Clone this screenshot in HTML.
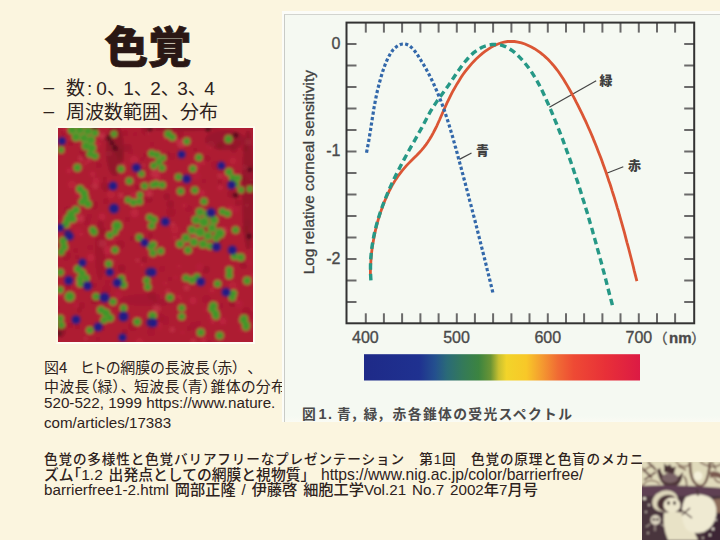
<!DOCTYPE html>
<html lang="ja">
<head>
<meta charset="utf-8">
<style>
html,body{margin:0;padding:0;}
body{width:720px;height:540px;position:relative;overflow:hidden;background:#fbf5df;
 font-family:"Liberation Sans","Noto Sans CJK JP",sans-serif;color:#2e221c;}
.abs{position:absolute;white-space:nowrap;}
#title{left:104.5px;top:14.5px;font-family:"Noto Sans CJK JP",sans-serif;font-weight:900;font-size:43.5px;line-height:60px;color:#2a1714;letter-spacing:0px;-webkit-text-stroke:0.7px #2a1714;}
.bul{left:42px;font-family:"Noto Sans CJK JP",sans-serif;font-size:19px;line-height:22px;color:#2e221c;}
.bul .d{display:inline-block;width:22.5px;padding-left:1.5px;position:relative;top:-1.7px;font-family:"Liberation Sans",sans-serif;}
.bul .c{font-family:"Liberation Sans",sans-serif;margin:0 4px 0 2px;}
.bul .n{font-family:"Liberation Sans",sans-serif;}
.bul .t{letter-spacing:-2.6px;}
#mosaic{position:absolute;left:56px;top:126px;width:195px;height:214px;border:2px solid #fffcf4;border-left-color:#fcf8e6;border-top-color:#fdf9ea;}
#mosaic svg{display:block;}
.cap{font-family:"Liberation Sans","Noto Sans CJK JP",sans-serif;font-size:14.5px;line-height:19px;color:#2e221c;font-weight:500;}
.j{font-family:"Noto Sans CJK JP",sans-serif;font-feature-settings:"palt";text-spacing-trim:space-all;font-size:15px;font-weight:400;}
#panel{position:absolute;left:282px;top:11px;width:438px;height:411px;background:#fbfcf8;}
#panel .in{position:absolute;left:2px;top:3px;right:0;bottom:0.5px;background:linear-gradient(to bottom,#f5f9f2 0,#f5f9f2 calc(100% - 6px),#fafbf4 100%);border-left:1px solid #c9cbc6;border-top:1px solid #d2d4cf;}
#chart{position:absolute;left:0;top:0;}
.foot{left:44px;font-family:"Liberation Sans","Noto Sans CJK JP",sans-serif;font-size:14.45px;line-height:15.5px;color:#2e221c;text-spacing-trim:space-all;font-weight:500;}
#illu{position:absolute;left:642px;top:462px;width:78px;height:78px;overflow:hidden;}
</style>
</head>
<body>
<div id="title" class="abs">色覚</div>
<div class="abs bul" style="top:76px"><span class="d">–</span>数<span class="c">:</span><span class="n">0</span><span class="t">、</span><span class="n">1</span><span class="t">、</span><span class="n">2</span><span class="t">、</span><span class="n">3</span><span class="t">、</span><span class="n">4</span></div>
<div class="abs bul" style="top:100px"><span class="d">–</span>周波数範囲、分布</div>

<div id="mosaic"><svg width="195" height="214" viewBox="0 0 195 214">
<defs><filter id="mb" x="-5%" y="-5%" width="110%" height="110%"><feGaussianBlur stdDeviation="1.5"/></filter><clipPath id="mc"><rect width="195" height="214"/></clipPath></defs>
<rect width="195" height="214" fill="#ae1a33"/>
<g clip-path="url(#mc)"><g filter="url(#mb)">
<rect x="-5" y="-5" width="205" height="224" fill="#ae1a33"/>
<circle cx="62.1" cy="30.2" r="3.5" fill="#9c152d" opacity="0.6"/>
<circle cx="162.1" cy="17.7" r="3.2" fill="#941329" opacity="0.6"/>
<circle cx="40.2" cy="15.9" r="2.8" fill="#c0263d" opacity="0.6"/>
<circle cx="15.2" cy="90.4" r="4.0" fill="#9c152d" opacity="0.6"/>
<circle cx="187.4" cy="135.7" r="3.2" fill="#9c152d" opacity="0.6"/>
<circle cx="113.0" cy="84.3" r="4.4" fill="#9c152d" opacity="0.6"/>
<circle cx="108.9" cy="26.3" r="2.8" fill="#941329" opacity="0.6"/>
<circle cx="20.7" cy="64.9" r="3.9" fill="#c0263d" opacity="0.6"/>
<circle cx="17.7" cy="122.7" r="2.1" fill="#9c152d" opacity="0.6"/>
<circle cx="107.1" cy="10.8" r="1.7" fill="#c0263d" opacity="0.6"/>
<circle cx="96.8" cy="114.0" r="3.8" fill="#b8213a" opacity="0.6"/>
<circle cx="114.7" cy="96.7" r="2.4" fill="#c83a4c" opacity="0.6"/>
<circle cx="33.1" cy="168.6" r="1.7" fill="#a4182f" opacity="0.6"/>
<circle cx="102.6" cy="189.5" r="3.7" fill="#a4182f" opacity="0.6"/>
<circle cx="119.4" cy="13.1" r="3.0" fill="#c0263d" opacity="0.6"/>
<circle cx="149.2" cy="30.4" r="3.0" fill="#9c152d" opacity="0.6"/>
<circle cx="190.4" cy="14.1" r="3.2" fill="#c83a4c" opacity="0.6"/>
<circle cx="173.0" cy="66.0" r="3.6" fill="#941329" opacity="0.6"/>
<circle cx="96.8" cy="172.3" r="1.7" fill="#9c152d" opacity="0.6"/>
<circle cx="186.9" cy="101.3" r="3.5" fill="#9c152d" opacity="0.6"/>
<circle cx="144.0" cy="65.1" r="3.2" fill="#c42c42" opacity="0.6"/>
<circle cx="162.2" cy="59.6" r="2.7" fill="#c42c42" opacity="0.6"/>
<circle cx="66.7" cy="203.9" r="2.6" fill="#941329" opacity="0.6"/>
<circle cx="20.5" cy="10.0" r="3.8" fill="#c0263d" opacity="0.6"/>
<circle cx="145.4" cy="84.5" r="4.3" fill="#b8213a" opacity="0.6"/>
<circle cx="13.2" cy="95.8" r="3.1" fill="#c0263d" opacity="0.6"/>
<circle cx="161.7" cy="187.1" r="2.3" fill="#b8213a" opacity="0.6"/>
<circle cx="195.3" cy="147.2" r="2.6" fill="#c0263d" opacity="0.6"/>
<circle cx="27.3" cy="35.8" r="2.2" fill="#c0263d" opacity="0.6"/>
<circle cx="-0.6" cy="179.8" r="2.0" fill="#a4182f" opacity="0.6"/>
<circle cx="-2.2" cy="89.2" r="2.6" fill="#941329" opacity="0.6"/>
<circle cx="61.0" cy="24.6" r="4.1" fill="#941329" opacity="0.6"/>
<circle cx="128.6" cy="159.8" r="2.9" fill="#c83a4c" opacity="0.6"/>
<circle cx="153.8" cy="189.4" r="3.9" fill="#b8213a" opacity="0.6"/>
<circle cx="77.0" cy="83.7" r="2.9" fill="#b8213a" opacity="0.6"/>
<circle cx="9.5" cy="11.8" r="2.1" fill="#c0263d" opacity="0.6"/>
<circle cx="19.1" cy="129.2" r="1.8" fill="#941329" opacity="0.6"/>
<circle cx="27.4" cy="19.3" r="2.6" fill="#9c152d" opacity="0.6"/>
<circle cx="11.1" cy="42.7" r="2.6" fill="#c42c42" opacity="0.6"/>
<circle cx="47.7" cy="73.4" r="2.6" fill="#9c152d" opacity="0.6"/>
<circle cx="20.2" cy="104.4" r="4.4" fill="#b8213a" opacity="0.6"/>
<circle cx="94.3" cy="15.9" r="1.8" fill="#a4182f" opacity="0.6"/>
<circle cx="145.8" cy="102.3" r="3.6" fill="#941329" opacity="0.6"/>
<circle cx="1.6" cy="206.2" r="3.1" fill="#c0263d" opacity="0.6"/>
<circle cx="135.7" cy="198.1" r="3.8" fill="#a4182f" opacity="0.6"/>
<circle cx="193.7" cy="186.9" r="3.6" fill="#a4182f" opacity="0.6"/>
<circle cx="101.2" cy="196.8" r="2.6" fill="#c0263d" opacity="0.6"/>
<circle cx="104.1" cy="168.4" r="2.5" fill="#c0263d" opacity="0.6"/>
<circle cx="120.3" cy="170.4" r="3.8" fill="#c0263d" opacity="0.6"/>
<circle cx="159.0" cy="177.0" r="3.7" fill="#c0263d" opacity="0.6"/>
<circle cx="37.2" cy="105.4" r="3.7" fill="#9c152d" opacity="0.6"/>
<circle cx="155.8" cy="100.9" r="2.1" fill="#941329" opacity="0.6"/>
<circle cx="189.3" cy="95.4" r="4.3" fill="#a4182f" opacity="0.6"/>
<circle cx="189.0" cy="77.2" r="2.2" fill="#c0263d" opacity="0.6"/>
<circle cx="91.5" cy="71.3" r="2.9" fill="#941329" opacity="0.6"/>
<circle cx="165.9" cy="102.5" r="3.5" fill="#c83a4c" opacity="0.6"/>
<circle cx="126.3" cy="180.6" r="1.9" fill="#b8213a" opacity="0.6"/>
<circle cx="154.2" cy="162.0" r="2.9" fill="#c0263d" opacity="0.6"/>
<circle cx="84.2" cy="136.9" r="1.8" fill="#c42c42" opacity="0.6"/>
<circle cx="76.6" cy="85.3" r="4.3" fill="#c42c42" opacity="0.6"/>
<circle cx="28.9" cy="215.5" r="1.6" fill="#941329" opacity="0.6"/>
<circle cx="178.9" cy="174.4" r="1.9" fill="#c83a4c" opacity="0.6"/>
<circle cx="116.8" cy="101.4" r="4.3" fill="#c0263d" opacity="0.6"/>
<circle cx="107.3" cy="25.8" r="1.5" fill="#c42c42" opacity="0.6"/>
<circle cx="127.6" cy="112.8" r="4.3" fill="#b8213a" opacity="0.6"/>
<circle cx="195.3" cy="39.9" r="4.1" fill="#9c152d" opacity="0.6"/>
<circle cx="47.6" cy="61.5" r="2.2" fill="#941329" opacity="0.6"/>
<circle cx="62.5" cy="116.8" r="4.0" fill="#9c152d" opacity="0.6"/>
<circle cx="179.9" cy="74.8" r="2.9" fill="#941329" opacity="0.6"/>
<circle cx="160.8" cy="110.7" r="4.0" fill="#941329" opacity="0.6"/>
<circle cx="23.3" cy="30.4" r="3.0" fill="#c83a4c" opacity="0.6"/>
<circle cx="85.5" cy="37.3" r="1.5" fill="#c83a4c" opacity="0.6"/>
<circle cx="27.1" cy="28.1" r="3.4" fill="#9c152d" opacity="0.6"/>
<circle cx="108.9" cy="68.7" r="3.1" fill="#941329" opacity="0.6"/>
<circle cx="94.0" cy="167.8" r="4.1" fill="#9c152d" opacity="0.6"/>
<circle cx="46.9" cy="57.9" r="3.8" fill="#941329" opacity="0.6"/>
<circle cx="87.9" cy="3.1" r="4.2" fill="#9c152d" opacity="0.6"/>
<circle cx="86.1" cy="131.8" r="3.0" fill="#941329" opacity="0.6"/>
<circle cx="37.1" cy="58.0" r="3.0" fill="#c83a4c" opacity="0.6"/>
<circle cx="93.1" cy="204.1" r="3.6" fill="#a4182f" opacity="0.6"/>
<circle cx="182.5" cy="193.4" r="2.1" fill="#b8213a" opacity="0.6"/>
<circle cx="24.6" cy="23.8" r="2.8" fill="#9c152d" opacity="0.6"/>
<circle cx="131.9" cy="91.2" r="2.1" fill="#a4182f" opacity="0.6"/>
<circle cx="154.6" cy="194.3" r="2.0" fill="#c42c42" opacity="0.6"/>
<circle cx="126.3" cy="77.6" r="2.3" fill="#c0263d" opacity="0.6"/>
<circle cx="191.5" cy="45.3" r="4.4" fill="#b8213a" opacity="0.6"/>
<circle cx="174.9" cy="32.8" r="3.5" fill="#c0263d" opacity="0.6"/>
<circle cx="29.5" cy="91.9" r="3.0" fill="#a4182f" opacity="0.6"/>
<circle cx="81.7" cy="75.5" r="1.8" fill="#a4182f" opacity="0.6"/>
<circle cx="0.9" cy="118.9" r="2.8" fill="#9c152d" opacity="0.6"/>
<circle cx="74.3" cy="110.8" r="2.4" fill="#9c152d" opacity="0.6"/>
<circle cx="19.7" cy="199.1" r="2.2" fill="#9c152d" opacity="0.6"/>
<circle cx="13.9" cy="56.8" r="4.2" fill="#c0263d" opacity="0.6"/>
<circle cx="51.4" cy="25.5" r="2.8" fill="#c42c42" opacity="0.6"/>
<circle cx="161.6" cy="53.9" r="1.9" fill="#941329" opacity="0.6"/>
<circle cx="111.7" cy="151.1" r="1.8" fill="#9c152d" opacity="0.6"/>
<circle cx="157.7" cy="37.3" r="4.2" fill="#a4182f" opacity="0.6"/>
<circle cx="185.6" cy="136.6" r="3.9" fill="#9c152d" opacity="0.6"/>
<circle cx="119.2" cy="45.9" r="2.3" fill="#9c152d" opacity="0.6"/>
<circle cx="88.2" cy="71.6" r="3.2" fill="#a4182f" opacity="0.6"/>
<circle cx="122.0" cy="6.5" r="3.6" fill="#9c152d" opacity="0.6"/>
<circle cx="191.8" cy="54.6" r="2.0" fill="#a4182f" opacity="0.6"/>
<circle cx="123.4" cy="113.8" r="2.1" fill="#b8213a" opacity="0.6"/>
<circle cx="97.5" cy="36.1" r="2.5" fill="#9c152d" opacity="0.6"/>
<circle cx="196.9" cy="5.1" r="1.6" fill="#941329" opacity="0.6"/>
<circle cx="107.8" cy="38.7" r="2.9" fill="#b8213a" opacity="0.6"/>
<circle cx="18.4" cy="177.2" r="2.8" fill="#b8213a" opacity="0.6"/>
<circle cx="106.7" cy="192.5" r="4.4" fill="#a4182f" opacity="0.6"/>
<circle cx="135.2" cy="213.1" r="2.5" fill="#c83a4c" opacity="0.6"/>
<circle cx="174.3" cy="157.3" r="1.9" fill="#a4182f" opacity="0.6"/>
<circle cx="194.4" cy="181.1" r="1.5" fill="#c42c42" opacity="0.6"/>
<circle cx="145.9" cy="53.2" r="2.0" fill="#9c152d" opacity="0.6"/>
<circle cx="130.7" cy="80.8" r="3.0" fill="#a4182f" opacity="0.6"/>
<circle cx="117.4" cy="149.4" r="1.6" fill="#c0263d" opacity="0.6"/>
<circle cx="28.7" cy="95.1" r="2.3" fill="#a4182f" opacity="0.6"/>
<circle cx="192.5" cy="117.4" r="2.2" fill="#a4182f" opacity="0.6"/>
<circle cx="40.8" cy="37.3" r="2.5" fill="#9c152d" opacity="0.6"/>
<circle cx="92.4" cy="107.6" r="2.1" fill="#941329" opacity="0.6"/>
<circle cx="153.0" cy="17.0" r="4.0" fill="#c0263d" opacity="0.6"/>
<circle cx="77.3" cy="6.2" r="1.6" fill="#a4182f" opacity="0.6"/>
<circle cx="123.6" cy="15.6" r="4.4" fill="#c83a4c" opacity="0.6"/>
<circle cx="147.9" cy="141.7" r="3.6" fill="#941329" opacity="0.6"/>
<circle cx="75.3" cy="68.7" r="4.5" fill="#c0263d" opacity="0.6"/>
<circle cx="54.1" cy="133.1" r="1.9" fill="#c83a4c" opacity="0.6"/>
<circle cx="164.9" cy="193.2" r="3.4" fill="#c42c42" opacity="0.6"/>
<circle cx="137.9" cy="108.2" r="4.2" fill="#c83a4c" opacity="0.6"/>
<circle cx="98.4" cy="180.7" r="3.9" fill="#c83a4c" opacity="0.6"/>
<circle cx="135.0" cy="172.6" r="3.6" fill="#c42c42" opacity="0.6"/>
<circle cx="126.2" cy="15.7" r="1.6" fill="#c42c42" opacity="0.6"/>
<circle cx="69.5" cy="20.1" r="4.0" fill="#941329" opacity="0.6"/>
<circle cx="7.2" cy="1.1" r="3.1" fill="#c0263d" opacity="0.6"/>
<circle cx="95.3" cy="-2.3" r="3.9" fill="#c42c42" opacity="0.6"/>
<circle cx="184.4" cy="194.5" r="1.8" fill="#941329" opacity="0.6"/>
<circle cx="10.3" cy="159.1" r="2.3" fill="#9c152d" opacity="0.6"/>
<circle cx="167.1" cy="48.7" r="3.8" fill="#c0263d" opacity="0.6"/>
<circle cx="145.7" cy="211.7" r="3.0" fill="#b8213a" opacity="0.6"/>
<circle cx="12.4" cy="197.3" r="2.4" fill="#9c152d" opacity="0.6"/>
<circle cx="121.0" cy="138.4" r="1.7" fill="#c0263d" opacity="0.6"/>
<circle cx="63.7" cy="140.3" r="3.6" fill="#941329" opacity="0.6"/>
<circle cx="111.1" cy="-0.3" r="1.7" fill="#a4182f" opacity="0.6"/>
<circle cx="192.5" cy="18.9" r="2.2" fill="#b8213a" opacity="0.6"/>
<circle cx="55.5" cy="110.6" r="2.9" fill="#b8213a" opacity="0.6"/>
<circle cx="151.2" cy="215.5" r="3.1" fill="#a4182f" opacity="0.6"/>
<circle cx="193.6" cy="203.0" r="1.6" fill="#b8213a" opacity="0.6"/>
<circle cx="12.4" cy="108.5" r="4.5" fill="#a4182f" opacity="0.6"/>
<circle cx="74.8" cy="198.6" r="4.3" fill="#9c152d" opacity="0.6"/>
<circle cx="113.9" cy="28.2" r="3.1" fill="#a4182f" opacity="0.6"/>
<circle cx="23.7" cy="177.4" r="3.0" fill="#9c152d" opacity="0.6"/>
<circle cx="138.4" cy="47.9" r="4.2" fill="#b8213a" opacity="0.6"/>
<circle cx="76.2" cy="32.0" r="4.3" fill="#c42c42" opacity="0.6"/>
<circle cx="87.6" cy="63.4" r="1.9" fill="#a4182f" opacity="0.6"/>
<circle cx="72.6" cy="23.6" r="2.5" fill="#a4182f" opacity="0.6"/>
<circle cx="147.9" cy="181.6" r="1.9" fill="#c0263d" opacity="0.6"/>
<circle cx="140.3" cy="195.3" r="2.4" fill="#a4182f" opacity="0.6"/>
<circle cx="10.1" cy="82.8" r="4.1" fill="#9c152d" opacity="0.6"/>
<circle cx="69.5" cy="91.2" r="2.3" fill="#9c152d" opacity="0.6"/>
<circle cx="53.4" cy="8.4" r="3.5" fill="#c42c42" opacity="0.6"/>
<circle cx="185.1" cy="51.9" r="2.3" fill="#941329" opacity="0.6"/>
<circle cx="60.4" cy="167.1" r="3.9" fill="#b8213a" opacity="0.6"/>
<circle cx="174.7" cy="175.6" r="3.4" fill="#941329" opacity="0.6"/>
<circle cx="107.4" cy="155.3" r="1.6" fill="#c42c42" opacity="0.6"/>
<circle cx="79.6" cy="132.3" r="1.9" fill="#c83a4c" opacity="0.6"/>
<circle cx="54.5" cy="7.8" r="4.3" fill="#c0263d" opacity="0.6"/>
<circle cx="31.3" cy="88.3" r="2.3" fill="#a4182f" opacity="0.6"/>
<circle cx="145.5" cy="211.8" r="2.3" fill="#c42c42" opacity="0.6"/>
<circle cx="45.0" cy="103.3" r="3.5" fill="#9c152d" opacity="0.6"/>
<circle cx="30.6" cy="32.6" r="2.1" fill="#c83a4c" opacity="0.6"/>
<circle cx="96.9" cy="45.4" r="4.2" fill="#c83a4c" opacity="0.6"/>
<circle cx="87.4" cy="27.7" r="2.1" fill="#9c152d" opacity="0.6"/>
<circle cx="32.1" cy="119.3" r="2.5" fill="#a4182f" opacity="0.6"/>
<circle cx="48.9" cy="122.3" r="4.2" fill="#c42c42" opacity="0.6"/>
<circle cx="172.0" cy="81.2" r="3.7" fill="#c0263d" opacity="0.6"/>
<circle cx="72.8" cy="71.4" r="1.7" fill="#a4182f" opacity="0.6"/>
<circle cx="112.4" cy="76.2" r="3.6" fill="#941329" opacity="0.6"/>
<circle cx="123.6" cy="186.8" r="2.1" fill="#a4182f" opacity="0.6"/>
<circle cx="177.3" cy="81.6" r="3.4" fill="#b8213a" opacity="0.6"/>
<circle cx="188.7" cy="183.7" r="4.1" fill="#9c152d" opacity="0.6"/>
<circle cx="22.6" cy="90.5" r="3.8" fill="#c83a4c" opacity="0.6"/>
<circle cx="92.1" cy="126.2" r="1.5" fill="#b8213a" opacity="0.6"/>
<circle cx="184.0" cy="201.2" r="3.1" fill="#b8213a" opacity="0.6"/>
<circle cx="192.4" cy="51.7" r="1.8" fill="#c0263d" opacity="0.6"/>
<circle cx="27.6" cy="210.8" r="1.8" fill="#c83a4c" opacity="0.6"/>
<circle cx="142.1" cy="139.4" r="3.8" fill="#b8213a" opacity="0.6"/>
<circle cx="14.1" cy="167.9" r="1.5" fill="#c0263d" opacity="0.6"/>
<circle cx="43.7" cy="199.4" r="3.4" fill="#a4182f" opacity="0.6"/>
<circle cx="190.4" cy="134.8" r="3.1" fill="#b8213a" opacity="0.6"/>
<circle cx="137.4" cy="21.7" r="1.7" fill="#941329" opacity="0.6"/>
<circle cx="186.7" cy="39.2" r="2.3" fill="#c83a4c" opacity="0.6"/>
<circle cx="117.8" cy="-0.7" r="2.4" fill="#b8213a" opacity="0.6"/>
<circle cx="53.0" cy="66.6" r="4.0" fill="#c0263d" opacity="0.6"/>
<circle cx="92.5" cy="48.6" r="2.2" fill="#b8213a" opacity="0.6"/>
<circle cx="138.6" cy="64.6" r="1.6" fill="#b8213a" opacity="0.6"/>
<circle cx="174.9" cy="139.4" r="1.7" fill="#c0263d" opacity="0.6"/>
<circle cx="131.1" cy="200.5" r="2.2" fill="#9c152d" opacity="0.6"/>
<circle cx="136.9" cy="155.0" r="2.6" fill="#b8213a" opacity="0.6"/>
<circle cx="36.8" cy="172.4" r="3.7" fill="#941329" opacity="0.6"/>
<circle cx="10.6" cy="106.1" r="2.1" fill="#c83a4c" opacity="0.6"/>
<circle cx="161.8" cy="47.8" r="2.2" fill="#c83a4c" opacity="0.6"/>
<circle cx="175.8" cy="21.0" r="3.4" fill="#941329" opacity="0.6"/>
<circle cx="34.6" cy="46.1" r="2.8" fill="#c42c42" opacity="0.6"/>
<circle cx="8.3" cy="127.9" r="4.3" fill="#9c152d" opacity="0.6"/>
<circle cx="39.8" cy="211.3" r="1.9" fill="#9c152d" opacity="0.6"/>
<circle cx="139.7" cy="37.5" r="2.8" fill="#c42c42" opacity="0.6"/>
<circle cx="174.6" cy="158.2" r="4.5" fill="#c0263d" opacity="0.6"/>
<circle cx="63.2" cy="37.8" r="4.3" fill="#c42c42" opacity="0.6"/>
<circle cx="91.0" cy="65.6" r="3.7" fill="#c83a4c" opacity="0.6"/>
<circle cx="72.2" cy="70.0" r="2.0" fill="#9c152d" opacity="0.6"/>
<circle cx="12.7" cy="14.8" r="2.8" fill="#9c152d" opacity="0.6"/>
<circle cx="109.8" cy="163.9" r="2.6" fill="#c83a4c" opacity="0.6"/>
<circle cx="162.1" cy="177.8" r="2.8" fill="#9c152d" opacity="0.6"/>
<circle cx="138.8" cy="40.1" r="3.1" fill="#b8213a" opacity="0.6"/>
<circle cx="35.8" cy="77.1" r="4.2" fill="#9c152d" opacity="0.6"/>
<circle cx="124.0" cy="51.6" r="3.4" fill="#b8213a" opacity="0.6"/>
<circle cx="5.2" cy="4.7" r="1.7" fill="#9c152d" opacity="0.6"/>
<circle cx="48.7" cy="161.4" r="4.2" fill="#a4182f" opacity="0.6"/>
<circle cx="70.0" cy="70.7" r="4.4" fill="#9c152d" opacity="0.6"/>
<circle cx="49.7" cy="154.7" r="2.4" fill="#a4182f" opacity="0.6"/>
<circle cx="56.8" cy="155.7" r="3.3" fill="#c83a4c" opacity="0.6"/>
<circle cx="124.4" cy="204.5" r="1.6" fill="#c0263d" opacity="0.6"/>
<circle cx="18.6" cy="154.4" r="2.9" fill="#c83a4c" opacity="0.6"/>
<circle cx="74.7" cy="52.2" r="2.8" fill="#b8213a" opacity="0.6"/>
<circle cx="23.7" cy="106.2" r="1.5" fill="#c42c42" opacity="0.6"/>
<circle cx="58.0" cy="149.3" r="2.0" fill="#c0263d" opacity="0.6"/>
<circle cx="62.9" cy="67.3" r="2.6" fill="#c83a4c" opacity="0.6"/>
<circle cx="116.7" cy="109.6" r="2.7" fill="#c0263d" opacity="0.6"/>
<circle cx="46.7" cy="11.2" r="1.6" fill="#941329" opacity="0.6"/>
<circle cx="106.5" cy="32.4" r="2.8" fill="#9c152d" opacity="0.6"/>
<circle cx="195.6" cy="55.3" r="1.8" fill="#9c152d" opacity="0.6"/>
<circle cx="81.6" cy="214.5" r="4.4" fill="#c0263d" opacity="0.6"/>
<circle cx="44.1" cy="88.7" r="3.4" fill="#c42c42" opacity="0.6"/>
<circle cx="44.2" cy="115.5" r="3.8" fill="#c83a4c" opacity="0.6"/>
<circle cx="21.4" cy="182.0" r="2.4" fill="#941329" opacity="0.6"/>
<circle cx="50.8" cy="52.9" r="2.3" fill="#b8213a" opacity="0.6"/>
<circle cx="46.7" cy="51.0" r="2.0" fill="#941329" opacity="0.6"/>
<circle cx="34.8" cy="11.3" r="2.3" fill="#c0263d" opacity="0.6"/>
<circle cx="99.0" cy="47.9" r="3.9" fill="#c42c42" opacity="0.6"/>
<circle cx="90.2" cy="5.1" r="1.5" fill="#c83a4c" opacity="0.6"/>
<circle cx="43.5" cy="95.6" r="2.6" fill="#a4182f" opacity="0.6"/>
<circle cx="43.8" cy="8.1" r="3.3" fill="#c83a4c" opacity="0.6"/>
<circle cx="114.2" cy="201.6" r="2.6" fill="#c83a4c" opacity="0.6"/>
<circle cx="32.7" cy="129.7" r="3.8" fill="#c42c42" opacity="0.6"/>
<circle cx="187.1" cy="20.3" r="3.3" fill="#941329" opacity="0.6"/>
<circle cx="67.3" cy="5.2" r="2.5" fill="#9c152d" opacity="0.6"/>
<circle cx="38.0" cy="53.1" r="3.3" fill="#c42c42" opacity="0.6"/>
<circle cx="180.7" cy="176.2" r="4.0" fill="#b8213a" opacity="0.6"/>
<circle cx="133.3" cy="37.7" r="2.4" fill="#c0263d" opacity="0.6"/>
<circle cx="3.3" cy="106.0" r="3.0" fill="#b8213a" opacity="0.6"/>
<circle cx="17.4" cy="84.0" r="3.2" fill="#c42c42" opacity="0.6"/>
<circle cx="104.3" cy="140.7" r="2.7" fill="#a4182f" opacity="0.6"/>
<circle cx="79.4" cy="59.3" r="2.4" fill="#9c152d" opacity="0.6"/>
<circle cx="59.8" cy="121.6" r="2.6" fill="#b8213a" opacity="0.6"/>
<circle cx="0.7" cy="165.7" r="3.9" fill="#c42c42" opacity="0.6"/>
<circle cx="36.6" cy="157.2" r="2.1" fill="#9c152d" opacity="0.6"/>
<circle cx="84.3" cy="31.4" r="1.8" fill="#9c152d" opacity="0.6"/>
<circle cx="78.6" cy="191.2" r="2.9" fill="#c0263d" opacity="0.6"/>
<circle cx="23.1" cy="8.4" r="1.9" fill="#c83a4c" opacity="0.6"/>
<circle cx="179.9" cy="16.6" r="3.4" fill="#a4182f" opacity="0.6"/>
<circle cx="145.2" cy="34.8" r="2.5" fill="#c0263d" opacity="0.6"/>
<circle cx="101.8" cy="200.6" r="1.8" fill="#b8213a" opacity="0.6"/>
<circle cx="148.5" cy="171.3" r="3.9" fill="#a4182f" opacity="0.6"/>
<ellipse cx="57.0" cy="22.0" rx="9.0" ry="26.0" fill="#5a0c1c" opacity="0.30"/>
<ellipse cx="190.0" cy="62.0" rx="6.0" ry="60.0" fill="#5a0c1c" opacity="0.30"/>
<ellipse cx="42.0" cy="122.0" rx="5.0" ry="30.0" fill="#5a0c1c" opacity="0.12"/>
<ellipse cx="167.0" cy="12.0" rx="20.0" ry="10.0" fill="#5a0c1c" opacity="0.25"/>
<ellipse cx="92.0" cy="172.0" rx="30.0" ry="6.0" fill="#5a0c1c" opacity="0.10"/>
<ellipse cx="2.0" cy="202.0" rx="6.0" ry="8.0" fill="#5a0c1c" opacity="0.30"/>
<ellipse cx="122.0" cy="0.0" rx="40.0" ry="3.0" fill="#5a0c1c" opacity="0.30"/>
<circle cx="51.0" cy="10.0" r="3.0" fill="#50101c" opacity="0.85"/>
<circle cx="57.0" cy="20.0" r="3.0" fill="#50101c" opacity="0.85"/>
<circle cx="54.0" cy="15.0" r="2.5" fill="#50101c" opacity="0.85"/>
<circle cx="177.6" cy="7.2" r="3.0" fill="#50101c" opacity="0.85"/>
<circle cx="177.6" cy="67.3" r="3.0" fill="#50101c" opacity="0.85"/>
<circle cx="191.9" cy="41.8" r="2.5" fill="#50101c" opacity="0.85"/>
<circle cx="191.2" cy="108.3" r="3.0" fill="#50101c" opacity="0.85"/>
<circle cx="1.2" cy="205.4" r="2.5" fill="#50101c" opacity="0.85"/>
<circle cx="37.0" cy="0.0" r="3.0" fill="#50101c" opacity="0.85"/>
<circle cx="92.0" cy="1.0" r="2.5" fill="#50101c" opacity="0.85"/>
<circle cx="150.0" cy="1.0" r="3.0" fill="#50101c" opacity="0.85"/>
<circle cx="14.0" cy="2.0" r="4.5" fill="#7e9632"/>
<circle cx="22.0" cy="2.0" r="4.5" fill="#7e9632"/>
<circle cx="30.0" cy="3.0" r="4.5" fill="#7e9632"/>
<circle cx="37.0" cy="5.0" r="3.8" fill="#7e9632"/>
<circle cx="18.0" cy="9.0" r="4.5" fill="#7e9632"/>
<circle cx="26.0" cy="10.0" r="4.5" fill="#7e9632"/>
<circle cx="33.0" cy="12.0" r="4.5" fill="#7e9632"/>
<circle cx="28.0" cy="18.0" r="4.5" fill="#7e9632"/>
<circle cx="34.0" cy="20.0" r="4.5" fill="#7e9632"/>
<circle cx="32.0" cy="26.0" r="3.8" fill="#7e9632"/>
<circle cx="37.0" cy="28.0" r="3.8" fill="#7e9632"/>
<circle cx="99.0" cy="27.0" r="3.8" fill="#7e9632"/>
<circle cx="101.0" cy="34.0" r="3.8" fill="#7e9632"/>
<circle cx="104.0" cy="40.0" r="3.8" fill="#7e9632"/>
<circle cx="105.0" cy="30.0" r="3.4" fill="#7e9632"/>
<circle cx="171.0" cy="44.0" r="4.1" fill="#7e9632"/>
<circle cx="175.0" cy="50.0" r="4.1" fill="#7e9632"/>
<circle cx="178.0" cy="56.0" r="3.8" fill="#7e9632"/>
<circle cx="183.0" cy="62.0" r="3.4" fill="#7e9632"/>
<circle cx="180.0" cy="50.0" r="3.4" fill="#7e9632"/>
<circle cx="22.0" cy="61.0" r="4.1" fill="#7e9632"/>
<circle cx="26.0" cy="65.0" r="4.1" fill="#7e9632"/>
<circle cx="27.0" cy="70.0" r="4.1" fill="#7e9632"/>
<circle cx="30.0" cy="76.0" r="4.1" fill="#7e9632"/>
<circle cx="24.0" cy="74.0" r="3.8" fill="#7e9632"/>
<circle cx="18.0" cy="82.0" r="4.1" fill="#7e9632"/>
<circle cx="13.0" cy="86.0" r="4.5" fill="#7e9632"/>
<circle cx="10.0" cy="91.0" r="4.5" fill="#7e9632"/>
<circle cx="8.0" cy="96.0" r="4.1" fill="#7e9632"/>
<circle cx="15.0" cy="91.0" r="3.8" fill="#7e9632"/>
<circle cx="142.0" cy="84.0" r="4.5" fill="#7e9632"/>
<circle cx="150.0" cy="86.0" r="4.5" fill="#7e9632"/>
<circle cx="156.0" cy="92.0" r="4.5" fill="#7e9632"/>
<circle cx="138.0" cy="92.0" r="4.5" fill="#7e9632"/>
<circle cx="146.0" cy="94.0" r="5.2" fill="#7e9632"/>
<circle cx="154.0" cy="100.0" r="4.5" fill="#7e9632"/>
<circle cx="134.0" cy="102.0" r="4.5" fill="#7e9632"/>
<circle cx="142.0" cy="104.0" r="5.2" fill="#7e9632"/>
<circle cx="150.0" cy="108.0" r="4.5" fill="#7e9632"/>
<circle cx="128.0" cy="110.0" r="4.5" fill="#7e9632"/>
<circle cx="136.0" cy="114.0" r="4.5" fill="#7e9632"/>
<circle cx="145.0" cy="116.0" r="4.5" fill="#7e9632"/>
<circle cx="122.0" cy="116.0" r="4.1" fill="#7e9632"/>
<circle cx="130.0" cy="122.0" r="4.1" fill="#7e9632"/>
<circle cx="152.0" cy="118.0" r="3.8" fill="#7e9632"/>
<circle cx="158.0" cy="110.0" r="3.8" fill="#7e9632"/>
<circle cx="5.0" cy="113.0" r="4.1" fill="#7e9632"/>
<circle cx="6.0" cy="119.0" r="4.1" fill="#7e9632"/>
<circle cx="3.0" cy="124.0" r="3.8" fill="#7e9632"/>
<circle cx="20.0" cy="141.0" r="4.1" fill="#7e9632"/>
<circle cx="24.0" cy="145.0" r="4.1" fill="#7e9632"/>
<circle cx="28.0" cy="150.0" r="3.8" fill="#7e9632"/>
<circle cx="22.0" cy="151.0" r="3.8" fill="#7e9632"/>
<circle cx="43.0" cy="182.0" r="4.1" fill="#7e9632"/>
<circle cx="48.0" cy="185.0" r="4.5" fill="#7e9632"/>
<circle cx="52.0" cy="190.0" r="4.1" fill="#7e9632"/>
<circle cx="46.0" cy="192.0" r="3.8" fill="#7e9632"/>
<circle cx="128.0" cy="150.0" r="3.8" fill="#7e9632"/>
<circle cx="134.0" cy="152.0" r="4.1" fill="#7e9632"/>
<circle cx="139.0" cy="149.0" r="3.8" fill="#7e9632"/>
<circle cx="70.0" cy="72.0" r="3.4" fill="#7e9632"/>
<circle cx="82.0" cy="67.0" r="3.4" fill="#7e9632"/>
<circle cx="2.0" cy="162.0" r="3.8" fill="#7e9632"/>
<circle cx="185.0" cy="192.0" r="3.8" fill="#7e9632"/>
<circle cx="188.0" cy="199.0" r="3.8" fill="#7e9632"/>
<circle cx="154.0" cy="181.0" r="3.8" fill="#7e9632"/>
<circle cx="158.0" cy="188.0" r="3.8" fill="#7e9632"/>
<circle cx="3.0" cy="22.0" r="3.4" fill="#7e9632"/>
<circle cx="19.4" cy="39.7" r="4.1" fill="#7e9632"/>
<circle cx="56.0" cy="6.0" r="3.4" fill="#7e9632"/>
<circle cx="63.0" cy="41.0" r="3.8" fill="#7e9632"/>
<circle cx="83.5" cy="45.9" r="3.4" fill="#7e9632"/>
<circle cx="93.7" cy="25.5" r="3.8" fill="#7e9632"/>
<circle cx="95.8" cy="37.7" r="3.8" fill="#7e9632"/>
<circle cx="71.3" cy="53.0" r="3.8" fill="#7e9632"/>
<circle cx="86.6" cy="58.0" r="3.8" fill="#7e9632"/>
<circle cx="94.7" cy="57.0" r="3.4" fill="#7e9632"/>
<circle cx="75.4" cy="74.4" r="3.8" fill="#7e9632"/>
<circle cx="81.5" cy="73.4" r="3.8" fill="#7e9632"/>
<circle cx="59.0" cy="97.8" r="5.2" fill="#7e9632"/>
<circle cx="91.7" cy="89.6" r="3.8" fill="#7e9632"/>
<circle cx="93.7" cy="97.8" r="3.8" fill="#7e9632"/>
<circle cx="34.7" cy="101.9" r="3.8" fill="#7e9632"/>
<circle cx="110.3" cy="6.2" r="4.1" fill="#7e9632"/>
<circle cx="114.4" cy="9.2" r="3.8" fill="#7e9632"/>
<circle cx="128.7" cy="13.3" r="3.8" fill="#7e9632"/>
<circle cx="170.5" cy="11.2" r="4.1" fill="#7e9632"/>
<circle cx="140.9" cy="29.6" r="3.8" fill="#7e9632"/>
<circle cx="134.8" cy="40.8" r="3.8" fill="#7e9632"/>
<circle cx="120.5" cy="49.0" r="3.8" fill="#7e9632"/>
<circle cx="98.0" cy="56.0" r="3.8" fill="#7e9632"/>
<circle cx="104.2" cy="57.0" r="3.8" fill="#7e9632"/>
<circle cx="122.6" cy="63.2" r="3.8" fill="#7e9632"/>
<circle cx="136.8" cy="62.2" r="3.8" fill="#7e9632"/>
<circle cx="146.0" cy="73.4" r="3.8" fill="#7e9632"/>
<circle cx="164.4" cy="83.6" r="3.8" fill="#7e9632"/>
<circle cx="169.5" cy="85.6" r="3.8" fill="#7e9632"/>
<circle cx="96.0" cy="91.8" r="3.8" fill="#7e9632"/>
<circle cx="177.6" cy="102.0" r="3.8" fill="#7e9632"/>
<circle cx="191.9" cy="61.0" r="3.4" fill="#7e9632"/>
<circle cx="36.0" cy="104.1" r="3.8" fill="#7e9632"/>
<circle cx="51.8" cy="107.3" r="3.8" fill="#7e9632"/>
<circle cx="57.0" cy="104.0" r="3.4" fill="#7e9632"/>
<circle cx="81.3" cy="109.4" r="3.8" fill="#7e9632"/>
<circle cx="92.9" cy="118.9" r="3.8" fill="#7e9632"/>
<circle cx="95.0" cy="125.0" r="3.8" fill="#7e9632"/>
<circle cx="57.0" cy="122.0" r="3.8" fill="#7e9632"/>
<circle cx="2.2" cy="144.2" r="3.8" fill="#7e9632"/>
<circle cx="50.7" cy="135.8" r="3.8" fill="#7e9632"/>
<circle cx="63.4" cy="150.5" r="3.8" fill="#7e9632"/>
<circle cx="65.5" cy="156.9" r="3.8" fill="#7e9632"/>
<circle cx="88.7" cy="152.6" r="3.8" fill="#7e9632"/>
<circle cx="89.8" cy="159.0" r="3.8" fill="#7e9632"/>
<circle cx="22.3" cy="155.8" r="3.8" fill="#7e9632"/>
<circle cx="11.7" cy="168.5" r="5.2" fill="#7e9632"/>
<circle cx="38.0" cy="168.5" r="3.8" fill="#7e9632"/>
<circle cx="55.0" cy="173.7" r="3.8" fill="#7e9632"/>
<circle cx="65.5" cy="180.0" r="3.8" fill="#7e9632"/>
<circle cx="2.2" cy="190.6" r="3.8" fill="#7e9632"/>
<circle cx="3.3" cy="197.0" r="3.8" fill="#7e9632"/>
<circle cx="79.2" cy="193.8" r="4.1" fill="#7e9632"/>
<circle cx="94.0" cy="187.4" r="3.8" fill="#7e9632"/>
<circle cx="31.8" cy="202.2" r="3.8" fill="#7e9632"/>
<circle cx="161.7" cy="105.2" r="5.2" fill="#7e9632"/>
<circle cx="182.8" cy="129.4" r="4.1" fill="#7e9632"/>
<circle cx="176.5" cy="128.4" r="3.8" fill="#7e9632"/>
<circle cx="95.2" cy="116.8" r="3.8" fill="#7e9632"/>
<circle cx="102.6" cy="123.1" r="3.8" fill="#7e9632"/>
<circle cx="171.2" cy="142.1" r="3.8" fill="#7e9632"/>
<circle cx="171.2" cy="147.4" r="3.8" fill="#7e9632"/>
<circle cx="189.1" cy="152.7" r="4.1" fill="#7e9632"/>
<circle cx="159.6" cy="155.8" r="3.8" fill="#7e9632"/>
<circle cx="175.4" cy="165.3" r="3.8" fill="#7e9632"/>
<circle cx="174.3" cy="169.6" r="3.8" fill="#7e9632"/>
<circle cx="112.0" cy="169.6" r="4.1" fill="#7e9632"/>
<circle cx="155.3" cy="178.0" r="4.5" fill="#7e9632"/>
<circle cx="157.5" cy="185.4" r="4.1" fill="#7e9632"/>
<circle cx="123.7" cy="180.1" r="3.8" fill="#7e9632"/>
<circle cx="123.7" cy="188.6" r="3.8" fill="#7e9632"/>
<circle cx="95.2" cy="187.5" r="3.8" fill="#7e9632"/>
<circle cx="186.0" cy="190.7" r="4.1" fill="#7e9632"/>
<circle cx="188.0" cy="197.0" r="4.1" fill="#7e9632"/>
<circle cx="142.7" cy="204.4" r="4.1" fill="#7e9632"/>
<circle cx="161.7" cy="207.6" r="4.1" fill="#7e9632"/>
<circle cx="14.0" cy="2.0" r="3.6" fill="#3f962a"/>
<circle cx="22.0" cy="2.0" r="3.6" fill="#3f962a"/>
<circle cx="30.0" cy="3.0" r="3.6" fill="#3f962a"/>
<circle cx="37.0" cy="5.0" r="2.9" fill="#3f962a"/>
<circle cx="18.0" cy="9.0" r="3.6" fill="#3f962a"/>
<circle cx="26.0" cy="10.0" r="3.6" fill="#3f962a"/>
<circle cx="33.0" cy="12.0" r="3.6" fill="#3f962a"/>
<circle cx="28.0" cy="18.0" r="3.6" fill="#3f962a"/>
<circle cx="34.0" cy="20.0" r="3.6" fill="#3f962a"/>
<circle cx="32.0" cy="26.0" r="2.9" fill="#3f962a"/>
<circle cx="37.0" cy="28.0" r="2.9" fill="#3f962a"/>
<circle cx="99.0" cy="27.0" r="2.9" fill="#3f962a"/>
<circle cx="101.0" cy="34.0" r="2.9" fill="#3f962a"/>
<circle cx="104.0" cy="40.0" r="2.9" fill="#3f962a"/>
<circle cx="105.0" cy="30.0" r="2.5" fill="#3f962a"/>
<circle cx="171.0" cy="44.0" r="3.2" fill="#3f962a"/>
<circle cx="175.0" cy="50.0" r="3.2" fill="#3f962a"/>
<circle cx="178.0" cy="56.0" r="2.9" fill="#3f962a"/>
<circle cx="183.0" cy="62.0" r="2.5" fill="#3f962a"/>
<circle cx="180.0" cy="50.0" r="2.5" fill="#3f962a"/>
<circle cx="22.0" cy="61.0" r="3.2" fill="#3f962a"/>
<circle cx="26.0" cy="65.0" r="3.2" fill="#3f962a"/>
<circle cx="27.0" cy="70.0" r="3.2" fill="#3f962a"/>
<circle cx="30.0" cy="76.0" r="3.2" fill="#3f962a"/>
<circle cx="24.0" cy="74.0" r="2.9" fill="#3f962a"/>
<circle cx="18.0" cy="82.0" r="3.2" fill="#3f962a"/>
<circle cx="13.0" cy="86.0" r="3.6" fill="#3f962a"/>
<circle cx="10.0" cy="91.0" r="3.6" fill="#3f962a"/>
<circle cx="8.0" cy="96.0" r="3.2" fill="#3f962a"/>
<circle cx="15.0" cy="91.0" r="2.9" fill="#3f962a"/>
<circle cx="142.0" cy="84.0" r="3.6" fill="#3f962a"/>
<circle cx="150.0" cy="86.0" r="3.6" fill="#3f962a"/>
<circle cx="156.0" cy="92.0" r="3.6" fill="#3f962a"/>
<circle cx="138.0" cy="92.0" r="3.6" fill="#3f962a"/>
<circle cx="146.0" cy="94.0" r="4.3" fill="#3f962a"/>
<circle cx="154.0" cy="100.0" r="3.6" fill="#3f962a"/>
<circle cx="134.0" cy="102.0" r="3.6" fill="#3f962a"/>
<circle cx="142.0" cy="104.0" r="4.3" fill="#3f962a"/>
<circle cx="150.0" cy="108.0" r="3.6" fill="#3f962a"/>
<circle cx="128.0" cy="110.0" r="3.6" fill="#3f962a"/>
<circle cx="136.0" cy="114.0" r="3.6" fill="#3f962a"/>
<circle cx="145.0" cy="116.0" r="3.6" fill="#3f962a"/>
<circle cx="122.0" cy="116.0" r="3.2" fill="#3f962a"/>
<circle cx="130.0" cy="122.0" r="3.2" fill="#3f962a"/>
<circle cx="152.0" cy="118.0" r="2.9" fill="#3f962a"/>
<circle cx="158.0" cy="110.0" r="2.9" fill="#3f962a"/>
<circle cx="5.0" cy="113.0" r="3.2" fill="#3f962a"/>
<circle cx="6.0" cy="119.0" r="3.2" fill="#3f962a"/>
<circle cx="3.0" cy="124.0" r="2.9" fill="#3f962a"/>
<circle cx="20.0" cy="141.0" r="3.2" fill="#3f962a"/>
<circle cx="24.0" cy="145.0" r="3.2" fill="#3f962a"/>
<circle cx="28.0" cy="150.0" r="2.9" fill="#3f962a"/>
<circle cx="22.0" cy="151.0" r="2.9" fill="#3f962a"/>
<circle cx="43.0" cy="182.0" r="3.2" fill="#3f962a"/>
<circle cx="48.0" cy="185.0" r="3.6" fill="#3f962a"/>
<circle cx="52.0" cy="190.0" r="3.2" fill="#3f962a"/>
<circle cx="46.0" cy="192.0" r="2.9" fill="#3f962a"/>
<circle cx="128.0" cy="150.0" r="2.9" fill="#3f962a"/>
<circle cx="134.0" cy="152.0" r="3.2" fill="#3f962a"/>
<circle cx="139.0" cy="149.0" r="2.9" fill="#3f962a"/>
<circle cx="70.0" cy="72.0" r="2.5" fill="#3f962a"/>
<circle cx="82.0" cy="67.0" r="2.5" fill="#3f962a"/>
<circle cx="2.0" cy="162.0" r="2.9" fill="#3f962a"/>
<circle cx="185.0" cy="192.0" r="2.9" fill="#3f962a"/>
<circle cx="188.0" cy="199.0" r="2.9" fill="#3f962a"/>
<circle cx="154.0" cy="181.0" r="2.9" fill="#3f962a"/>
<circle cx="158.0" cy="188.0" r="2.9" fill="#3f962a"/>
<circle cx="3.0" cy="22.0" r="2.5" fill="#3f962a"/>
<circle cx="19.4" cy="39.7" r="3.2" fill="#3f962a"/>
<circle cx="56.0" cy="6.0" r="2.5" fill="#3f962a"/>
<circle cx="63.0" cy="41.0" r="2.9" fill="#3f962a"/>
<circle cx="83.5" cy="45.9" r="2.5" fill="#3f962a"/>
<circle cx="93.7" cy="25.5" r="2.9" fill="#3f962a"/>
<circle cx="95.8" cy="37.7" r="2.9" fill="#3f962a"/>
<circle cx="71.3" cy="53.0" r="2.9" fill="#3f962a"/>
<circle cx="86.6" cy="58.0" r="2.9" fill="#3f962a"/>
<circle cx="94.7" cy="57.0" r="2.5" fill="#3f962a"/>
<circle cx="75.4" cy="74.4" r="2.9" fill="#3f962a"/>
<circle cx="81.5" cy="73.4" r="2.9" fill="#3f962a"/>
<circle cx="59.0" cy="97.8" r="4.3" fill="#3f962a"/>
<circle cx="91.7" cy="89.6" r="2.9" fill="#3f962a"/>
<circle cx="93.7" cy="97.8" r="2.9" fill="#3f962a"/>
<circle cx="34.7" cy="101.9" r="2.9" fill="#3f962a"/>
<circle cx="110.3" cy="6.2" r="3.2" fill="#3f962a"/>
<circle cx="114.4" cy="9.2" r="2.9" fill="#3f962a"/>
<circle cx="128.7" cy="13.3" r="2.9" fill="#3f962a"/>
<circle cx="170.5" cy="11.2" r="3.2" fill="#3f962a"/>
<circle cx="140.9" cy="29.6" r="2.9" fill="#3f962a"/>
<circle cx="134.8" cy="40.8" r="2.9" fill="#3f962a"/>
<circle cx="120.5" cy="49.0" r="2.9" fill="#3f962a"/>
<circle cx="98.0" cy="56.0" r="2.9" fill="#3f962a"/>
<circle cx="104.2" cy="57.0" r="2.9" fill="#3f962a"/>
<circle cx="122.6" cy="63.2" r="2.9" fill="#3f962a"/>
<circle cx="136.8" cy="62.2" r="2.9" fill="#3f962a"/>
<circle cx="146.0" cy="73.4" r="2.9" fill="#3f962a"/>
<circle cx="164.4" cy="83.6" r="2.9" fill="#3f962a"/>
<circle cx="169.5" cy="85.6" r="2.9" fill="#3f962a"/>
<circle cx="96.0" cy="91.8" r="2.9" fill="#3f962a"/>
<circle cx="177.6" cy="102.0" r="2.9" fill="#3f962a"/>
<circle cx="191.9" cy="61.0" r="2.5" fill="#3f962a"/>
<circle cx="36.0" cy="104.1" r="2.9" fill="#3f962a"/>
<circle cx="51.8" cy="107.3" r="2.9" fill="#3f962a"/>
<circle cx="57.0" cy="104.0" r="2.5" fill="#3f962a"/>
<circle cx="81.3" cy="109.4" r="2.9" fill="#3f962a"/>
<circle cx="92.9" cy="118.9" r="2.9" fill="#3f962a"/>
<circle cx="95.0" cy="125.0" r="2.9" fill="#3f962a"/>
<circle cx="57.0" cy="122.0" r="2.9" fill="#3f962a"/>
<circle cx="2.2" cy="144.2" r="2.9" fill="#3f962a"/>
<circle cx="50.7" cy="135.8" r="2.9" fill="#3f962a"/>
<circle cx="63.4" cy="150.5" r="2.9" fill="#3f962a"/>
<circle cx="65.5" cy="156.9" r="2.9" fill="#3f962a"/>
<circle cx="88.7" cy="152.6" r="2.9" fill="#3f962a"/>
<circle cx="89.8" cy="159.0" r="2.9" fill="#3f962a"/>
<circle cx="22.3" cy="155.8" r="2.9" fill="#3f962a"/>
<circle cx="11.7" cy="168.5" r="4.3" fill="#3f962a"/>
<circle cx="38.0" cy="168.5" r="2.9" fill="#3f962a"/>
<circle cx="55.0" cy="173.7" r="2.9" fill="#3f962a"/>
<circle cx="65.5" cy="180.0" r="2.9" fill="#3f962a"/>
<circle cx="2.2" cy="190.6" r="2.9" fill="#3f962a"/>
<circle cx="3.3" cy="197.0" r="2.9" fill="#3f962a"/>
<circle cx="79.2" cy="193.8" r="3.2" fill="#3f962a"/>
<circle cx="94.0" cy="187.4" r="2.9" fill="#3f962a"/>
<circle cx="31.8" cy="202.2" r="2.9" fill="#3f962a"/>
<circle cx="161.7" cy="105.2" r="4.3" fill="#3f962a"/>
<circle cx="182.8" cy="129.4" r="3.2" fill="#3f962a"/>
<circle cx="176.5" cy="128.4" r="2.9" fill="#3f962a"/>
<circle cx="95.2" cy="116.8" r="2.9" fill="#3f962a"/>
<circle cx="102.6" cy="123.1" r="2.9" fill="#3f962a"/>
<circle cx="171.2" cy="142.1" r="2.9" fill="#3f962a"/>
<circle cx="171.2" cy="147.4" r="2.9" fill="#3f962a"/>
<circle cx="189.1" cy="152.7" r="3.2" fill="#3f962a"/>
<circle cx="159.6" cy="155.8" r="2.9" fill="#3f962a"/>
<circle cx="175.4" cy="165.3" r="2.9" fill="#3f962a"/>
<circle cx="174.3" cy="169.6" r="2.9" fill="#3f962a"/>
<circle cx="112.0" cy="169.6" r="3.2" fill="#3f962a"/>
<circle cx="155.3" cy="178.0" r="3.6" fill="#3f962a"/>
<circle cx="157.5" cy="185.4" r="3.2" fill="#3f962a"/>
<circle cx="123.7" cy="180.1" r="2.9" fill="#3f962a"/>
<circle cx="123.7" cy="188.6" r="2.9" fill="#3f962a"/>
<circle cx="95.2" cy="187.5" r="2.9" fill="#3f962a"/>
<circle cx="186.0" cy="190.7" r="3.2" fill="#3f962a"/>
<circle cx="188.0" cy="197.0" r="3.2" fill="#3f962a"/>
<circle cx="142.7" cy="204.4" r="3.2" fill="#3f962a"/>
<circle cx="161.7" cy="207.6" r="3.2" fill="#3f962a"/>
<circle cx="4.0" cy="13.0" r="4.6" fill="#4a1a50"/>
<circle cx="4.0" cy="13.0" r="3.6" fill="#211f86"/>
<circle cx="78.4" cy="39.7" r="5.0" fill="#4a1a50"/>
<circle cx="78.4" cy="39.7" r="4.0" fill="#211f86"/>
<circle cx="55.0" cy="58.0" r="5.0" fill="#4a1a50"/>
<circle cx="55.0" cy="58.0" r="4.0" fill="#211f86"/>
<circle cx="56.0" cy="80.5" r="5.5" fill="#4a1a50"/>
<circle cx="56.0" cy="80.5" r="4.5" fill="#211f86"/>
<circle cx="2.0" cy="99.8" r="4.6" fill="#4a1a50"/>
<circle cx="2.0" cy="99.8" r="3.6" fill="#211f86"/>
<circle cx="10.0" cy="106.0" r="4.6" fill="#4a1a50"/>
<circle cx="10.0" cy="106.0" r="3.6" fill="#211f86"/>
<circle cx="123.6" cy="26.5" r="4.6" fill="#4a1a50"/>
<circle cx="123.6" cy="26.5" r="3.6" fill="#211f86"/>
<circle cx="163.3" cy="37.7" r="4.6" fill="#4a1a50"/>
<circle cx="163.3" cy="37.7" r="3.6" fill="#211f86"/>
<circle cx="128.7" cy="51.0" r="5.0" fill="#4a1a50"/>
<circle cx="128.7" cy="51.0" r="4.0" fill="#211f86"/>
<circle cx="153.1" cy="84.6" r="5.0" fill="#4a1a50"/>
<circle cx="153.1" cy="84.6" r="4.0" fill="#211f86"/>
<circle cx="107.3" cy="93.8" r="5.0" fill="#4a1a50"/>
<circle cx="107.3" cy="93.8" r="4.0" fill="#211f86"/>
<circle cx="11.7" cy="108.3" r="4.6" fill="#4a1a50"/>
<circle cx="11.7" cy="108.3" r="3.6" fill="#211f86"/>
<circle cx="86.6" cy="114.7" r="4.6" fill="#4a1a50"/>
<circle cx="86.6" cy="114.7" r="3.6" fill="#211f86"/>
<circle cx="24.4" cy="134.7" r="4.6" fill="#4a1a50"/>
<circle cx="24.4" cy="134.7" r="3.6" fill="#211f86"/>
<circle cx="51.8" cy="144.2" r="4.6" fill="#4a1a50"/>
<circle cx="51.8" cy="144.2" r="3.6" fill="#211f86"/>
<circle cx="10.7" cy="152.6" r="5.0" fill="#4a1a50"/>
<circle cx="10.7" cy="152.6" r="4.0" fill="#211f86"/>
<circle cx="59.2" cy="154.7" r="5.0" fill="#4a1a50"/>
<circle cx="59.2" cy="154.7" r="4.0" fill="#211f86"/>
<circle cx="91.9" cy="144.2" r="5.0" fill="#4a1a50"/>
<circle cx="91.9" cy="144.2" r="4.0" fill="#211f86"/>
<circle cx="29.6" cy="157.9" r="5.0" fill="#4a1a50"/>
<circle cx="29.6" cy="157.9" r="4.0" fill="#211f86"/>
<circle cx="46.5" cy="169.5" r="5.5" fill="#4a1a50"/>
<circle cx="46.5" cy="169.5" r="4.5" fill="#211f86"/>
<circle cx="65.5" cy="188.5" r="5.5" fill="#4a1a50"/>
<circle cx="65.5" cy="188.5" r="4.5" fill="#211f86"/>
<circle cx="18.0" cy="191.7" r="5.0" fill="#4a1a50"/>
<circle cx="18.0" cy="191.7" r="4.0" fill="#211f86"/>
<circle cx="92.9" cy="194.8" r="5.0" fill="#4a1a50"/>
<circle cx="92.9" cy="194.8" r="4.0" fill="#211f86"/>
<circle cx="40.2" cy="199.0" r="5.0" fill="#4a1a50"/>
<circle cx="40.2" cy="199.0" r="4.0" fill="#211f86"/>
<circle cx="64.5" cy="209.6" r="4.6" fill="#4a1a50"/>
<circle cx="64.5" cy="209.6" r="3.6" fill="#211f86"/>
<circle cx="158.5" cy="118.9" r="5.0" fill="#4a1a50"/>
<circle cx="158.5" cy="118.9" r="4.0" fill="#211f86"/>
<circle cx="174.3" cy="122.1" r="5.0" fill="#4a1a50"/>
<circle cx="174.3" cy="122.1" r="4.0" fill="#211f86"/>
<circle cx="94.1" cy="144.2" r="5.0" fill="#4a1a50"/>
<circle cx="94.1" cy="144.2" r="4.0" fill="#211f86"/>
<circle cx="142.7" cy="153.7" r="5.0" fill="#4a1a50"/>
<circle cx="142.7" cy="153.7" r="4.0" fill="#211f86"/>
<circle cx="168.0" cy="164.3" r="5.0" fill="#4a1a50"/>
<circle cx="168.0" cy="164.3" r="4.0" fill="#211f86"/>
<circle cx="95.2" cy="194.9" r="5.0" fill="#4a1a50"/>
<circle cx="95.2" cy="194.9" r="4.0" fill="#211f86"/>
<circle cx="173.5" cy="57.0" r="4.8" fill="#4a1a50"/>
<circle cx="173.5" cy="57.0" r="3.8" fill="#211f86"/>
</g></g>
</svg></div>

<div class="abs cap j" style="left:44px;top:357px;">図4<span style="letter-spacing:-1.5px">　</span>ヒトの網膜の長波長（赤<span style="letter-spacing:7.5px">）</span>、</div>
<div class="abs cap j" style="left:44px;top:376px;letter-spacing:0.25px">中波長（緑）<span style="letter-spacing:6px">、</span>短波長（青）錐体の分布</div>
<div class="abs cap" style="left:44px;top:393px;font-size:15.2px;">520-522, 1999 https://www.nature.</div>
<div class="abs cap" style="left:44px;top:412.5px;font-size:15.15px;">com/articles/17383</div>

<div id="panel"><div class="in"></div></div>
<svg id="chart" width="720" height="540" viewBox="0 0 720 540" style="position:absolute;left:0;top:0;">
 <g stroke="#6a6a6a" stroke-width="2" fill="none">
<line x1="365.8" y1="22.6" x2="365.8" y2="32.6"/>
<line x1="365.8" y1="323.3" x2="365.8" y2="313.3"/>
<line x1="383.9" y1="22.6" x2="383.9" y2="32.6"/>
<line x1="383.9" y1="323.3" x2="383.9" y2="313.3"/>
<line x1="402.1" y1="22.6" x2="402.1" y2="32.6"/>
<line x1="402.1" y1="323.3" x2="402.1" y2="313.3"/>
<line x1="420.4" y1="22.6" x2="420.4" y2="32.6"/>
<line x1="420.4" y1="323.3" x2="420.4" y2="313.3"/>
<line x1="438.6" y1="22.6" x2="438.6" y2="32.6"/>
<line x1="438.6" y1="323.3" x2="438.6" y2="313.3"/>
<line x1="456.8" y1="22.6" x2="456.8" y2="32.6"/>
<line x1="456.8" y1="323.3" x2="456.8" y2="313.3"/>
<line x1="474.9" y1="22.6" x2="474.9" y2="32.6"/>
<line x1="474.9" y1="323.3" x2="474.9" y2="313.3"/>
<line x1="493.1" y1="22.6" x2="493.1" y2="32.6"/>
<line x1="493.1" y1="323.3" x2="493.1" y2="313.3"/>
<line x1="511.4" y1="22.6" x2="511.4" y2="32.6"/>
<line x1="511.4" y1="323.3" x2="511.4" y2="313.3"/>
<line x1="529.5" y1="22.6" x2="529.5" y2="32.6"/>
<line x1="529.5" y1="323.3" x2="529.5" y2="313.3"/>
<line x1="547.8" y1="22.6" x2="547.8" y2="32.6"/>
<line x1="547.8" y1="323.3" x2="547.8" y2="313.3"/>
<line x1="566.0" y1="22.6" x2="566.0" y2="32.6"/>
<line x1="566.0" y1="323.3" x2="566.0" y2="313.3"/>
<line x1="584.1" y1="22.6" x2="584.1" y2="32.6"/>
<line x1="584.1" y1="323.3" x2="584.1" y2="313.3"/>
<line x1="602.4" y1="22.6" x2="602.4" y2="32.6"/>
<line x1="602.4" y1="323.3" x2="602.4" y2="313.3"/>
<line x1="620.5" y1="22.6" x2="620.5" y2="32.6"/>
<line x1="620.5" y1="323.3" x2="620.5" y2="313.3"/>
<line x1="638.8" y1="22.6" x2="638.8" y2="32.6"/>
<line x1="638.8" y1="323.3" x2="638.8" y2="313.3"/>
<line x1="657.0" y1="22.6" x2="657.0" y2="32.6"/>
<line x1="657.0" y1="323.3" x2="657.0" y2="313.3"/>
<line x1="675.1" y1="22.6" x2="675.1" y2="32.6"/>
<line x1="675.1" y1="323.3" x2="675.1" y2="313.3"/>
<line x1="346.5" y1="44.0" x2="356.5" y2="44.0"/>
<line x1="694.2" y1="44.0" x2="684.2" y2="44.0"/>
<line x1="346.5" y1="65.5" x2="356.5" y2="65.5"/>
<line x1="694.2" y1="65.5" x2="684.2" y2="65.5"/>
<line x1="346.5" y1="87.0" x2="356.5" y2="87.0"/>
<line x1="694.2" y1="87.0" x2="684.2" y2="87.0"/>
<line x1="346.5" y1="108.5" x2="356.5" y2="108.5"/>
<line x1="694.2" y1="108.5" x2="684.2" y2="108.5"/>
<line x1="346.5" y1="130.0" x2="356.5" y2="130.0"/>
<line x1="694.2" y1="130.0" x2="684.2" y2="130.0"/>
<line x1="346.5" y1="151.5" x2="356.5" y2="151.5"/>
<line x1="694.2" y1="151.5" x2="684.2" y2="151.5"/>
<line x1="346.5" y1="173.0" x2="356.5" y2="173.0"/>
<line x1="694.2" y1="173.0" x2="684.2" y2="173.0"/>
<line x1="346.5" y1="194.5" x2="356.5" y2="194.5"/>
<line x1="694.2" y1="194.5" x2="684.2" y2="194.5"/>
<line x1="346.5" y1="216.0" x2="356.5" y2="216.0"/>
<line x1="694.2" y1="216.0" x2="684.2" y2="216.0"/>
<line x1="346.5" y1="237.5" x2="356.5" y2="237.5"/>
<line x1="694.2" y1="237.5" x2="684.2" y2="237.5"/>
<line x1="346.5" y1="259.0" x2="356.5" y2="259.0"/>
<line x1="694.2" y1="259.0" x2="684.2" y2="259.0"/>
<line x1="346.5" y1="280.5" x2="356.5" y2="280.5"/>
<line x1="694.2" y1="280.5" x2="684.2" y2="280.5"/>
<line x1="346.5" y1="302.0" x2="356.5" y2="302.0"/>
<line x1="694.2" y1="302.0" x2="684.2" y2="302.0"/>
 </g>
 <rect x="346.5" y="22.6" width="347.7" height="300.7" fill="none" stroke="#333" stroke-width="2"/>
 <g font-family="Liberation Sans, sans-serif" font-size="16" fill="#4a4a4a" stroke="#4a4a4a" stroke-width="0.35">
  <text x="340.5" y="48.5" text-anchor="end">0</text>
  <text x="340.5" y="156" text-anchor="end">-1</text>
  <text x="340.5" y="264" text-anchor="end">-2</text>
  <text x="365.4" y="343" text-anchor="middle">400</text>
  <text x="456.5" y="343" text-anchor="middle">500</text>
  <text x="547.8" y="343" text-anchor="middle">600</text>
  <text x="638.9" y="343" text-anchor="middle">700</text>
  <text y="342.5" font-family="Noto Sans CJK JP, sans-serif" font-size="14" fill="#555"><tspan x="653.5">（</tspan><tspan x="669" font-family="Liberation Sans, sans-serif" font-weight="bold" font-size="15" fill="#4a4a4a">nm</tspan><tspan x="691.3">）</tspan></text>
  <text transform="translate(313.8 172.2) rotate(-90)" text-anchor="middle" font-size="15.3" font-weight="normal" fill="#3c3c3c">Log relative corneal sensitivity</text>
 </g>
 <g stroke="#444" stroke-width="1.2" fill="none">
  <line x1="459.4" y1="159.4" x2="471.5" y2="153"/>
  <line x1="549.4" y1="107.2" x2="596.2" y2="80.7"/>
  <line x1="606.7" y1="173.3" x2="623.3" y2="166.7"/>
 </g>
 <g font-family="Noto Sans CJK JP, sans-serif" font-weight="900" font-size="13" fill="#404040" text-anchor="middle">
  <text x="482.5" y="155">青</text>
  <text x="606" y="85">緑</text>
  <text x="634.5" y="170">赤</text>
 </g>
 <g filter="url(#cb)">
 <path d="M370.4 274.9 L370.4 271.4 L370.5 267.9 L370.7 264.3 L370.9 260.8 L371.2 257.2 L371.5 253.6 L371.9 250.1 L372.4 246.5 L373.0 243.0 L373.6 239.4 L374.3 235.9 L375.0 232.4 L375.8 228.9 L376.7 225.4 L377.6 221.9 L378.6 218.4 L379.7 215.0 L380.8 211.6 L382.0 208.2 L383.2 204.8 L384.5 201.5 L385.9 198.2 L387.4 194.9 L388.9 191.7 L390.5 188.5 L392.2 185.4 L394.0 182.4 L395.8 179.4 L397.8 176.4 L399.9 173.6 L402.0 170.8 L404.3 168.1 L406.7 165.4 L409.1 162.9 L411.7 160.3 L414.2 157.8 L416.8 155.3 L419.2 152.7 L421.6 150.1 L423.9 147.4 L426.0 144.6 L428.0 141.7 L429.9 138.8 L431.7 135.7 L433.4 132.6 L435.0 129.5 L436.6 126.3 L438.1 123.0 L439.6 119.8 L441.0 116.5 L442.5 113.2 L443.9 109.8 L445.4 106.5 L446.9 103.2 L448.5 99.9 L450.1 96.7 L451.7 93.4 L453.4 90.2 L455.2 87.1 L457.0 83.9 L458.9 80.9 L460.8 77.8 L462.8 74.8 L464.9 71.9 L467.1 69.1 L469.4 66.3 L471.7 63.6 L474.2 61.0 L476.7 58.4 L479.4 56.0 L482.1 53.6 L485.0 51.4 L488.0 49.3 L491.0 47.4 L494.2 45.6 L497.4 44.2 L500.7 43.0 L504.1 42.1 L507.5 41.5 L511.0 41.3 L514.5 41.5 L518.0 42.1 L521.5 42.9 L524.9 44.0 L528.2 45.4 L531.4 47.0 L534.5 48.7 L537.4 50.6 L540.3 52.6 L543.0 54.8 L545.6 57.1 L548.2 59.5 L550.6 62.1 L552.9 64.7 L555.2 67.5 L557.4 70.3 L559.5 73.3 L561.5 76.3 L563.5 79.3 L565.4 82.4 L567.3 85.6 L569.1 88.8 L570.9 92.0 L572.6 95.2 L574.4 98.4 L576.0 101.7 L577.7 104.9 L579.3 108.2 L580.9 111.4 L582.5 114.7 L584.0 117.9 L585.6 121.2 L587.1 124.5 L588.5 127.7 L590.0 131.0 L591.4 134.3 L592.8 137.6 L594.1 140.9 L595.5 144.2 L596.8 147.5 L598.1 150.9 L599.4 154.2 L600.7 157.5 L601.9 160.8 L603.1 164.2 L604.3 167.5 L605.5 170.9 L606.7 174.2 L607.8 177.6 L608.9 181.0 L610.1 184.3 L611.2 187.7 L612.2 191.1 L613.3 194.5 L614.4 197.9 L615.4 201.3 L616.4 204.7 L617.4 208.1 L618.5 211.5 L619.4 215.0 L620.4 218.4 L621.4 221.8 L622.4 225.3 L623.3 228.7 L624.3 232.2 L625.2 235.6 L626.1 239.1 L627.0 242.6 L628.0 246.1 L628.9 249.5 L629.8 253.0 L630.7 256.5 L631.6 260.0 L632.5 263.5 L633.4 267.1 L634.2 270.6 L635.1 274.1 L636.0 277.6 L636.9 281.2" fill="none" stroke="#db5634" stroke-width="2.8"/>
 <path d="M370.9 280.3 L370.7 276.5 L370.5 272.8 L370.5 269.1 L370.5 265.4 L370.6 261.7 L370.8 258.0 L371.1 254.4 L371.5 250.8 L371.9 247.2 L372.5 243.6 L373.1 240.1 L373.7 236.5 L374.5 233.0 L375.3 229.5 L376.2 226.0 L377.1 222.6 L378.1 219.1 L379.2 215.7 L380.3 212.2 L381.5 208.8 L382.7 205.5 L384.0 202.1 L385.3 198.7 L386.7 195.4 L388.1 192.0 L389.5 188.7 L391.0 185.4 L392.6 182.1 L394.1 178.8 L395.7 175.6 L397.3 172.3 L399.0 169.1 L400.7 165.8 L402.4 162.6 L404.1 159.4 L405.8 156.2 L407.6 153.0 L409.3 149.8 L411.1 146.6 L412.9 143.4 L414.7 140.3 L416.5 137.1 L418.2 133.9 L420.0 130.8 L421.8 127.6 L423.5 124.4 L425.2 121.2 L426.9 118.0 L428.6 114.8 L430.3 111.7 L432.1 108.7 L434.0 105.7 L435.9 102.9 L437.9 100.0 L439.9 97.2 L442.0 94.3 L444.1 91.5 L446.2 88.6 L448.3 85.6 L450.4 82.6 L452.5 79.4 L454.6 76.2 L456.8 73.0 L458.9 69.9 L461.2 66.7 L463.5 63.7 L465.8 60.8 L468.3 58.0 L470.8 55.4 L473.4 52.9 L476.2 50.8 L479.1 48.9 L482.1 47.3 L485.3 46.0 L488.6 45.1 L492.0 44.5 L495.4 44.4 L498.8 44.6 L502.1 45.4 L505.4 46.6 L508.5 48.2 L511.6 50.2 L514.5 52.4 L517.3 54.9 L520.0 57.6 L522.5 60.3 L524.9 63.1 L527.2 66.0 L529.4 68.9 L531.5 71.9 L533.4 74.9 L535.3 78.0 L537.1 81.1 L538.9 84.3 L540.5 87.5 L542.2 90.8 L543.7 94.0 L545.3 97.3 L546.7 100.7 L548.2 104.0 L549.6 107.3 L551.1 110.6 L552.5 114.0 L553.9 117.3 L555.2 120.7 L556.6 124.0 L557.9 127.4 L559.3 130.8 L560.6 134.2 L561.9 137.5 L563.2 140.9 L564.4 144.3 L565.7 147.7 L566.9 151.1 L568.2 154.5 L569.4 157.9 L570.6 161.3 L571.8 164.8 L573.0 168.2 L574.1 171.6 L575.3 175.0 L576.4 178.5 L577.6 181.9 L578.7 185.4 L579.8 188.8 L580.9 192.3 L582.0 195.7 L583.0 199.2 L584.1 202.6 L585.2 206.1 L586.2 209.6 L587.3 213.0 L588.3 216.5 L589.3 220.0 L590.3 223.5 L591.4 226.9 L592.4 230.4 L593.3 233.9 L594.3 237.4 L595.3 240.9 L596.3 244.4 L597.2 247.9 L598.2 251.4 L599.2 254.9 L600.1 258.4 L601.1 261.9 L602.0 265.4 L602.9 268.9 L603.9 272.4 L604.8 275.9 L605.7 279.4 L606.6 282.9 L607.5 286.4 L608.4 290.0 L609.3 293.5 L610.2 297.0 L611.2 300.5 L612.1 304.0 L612.9 307.5" fill="none" stroke="#259886" stroke-width="3.4" stroke-dasharray="6.5 4"/>
 <path d="M366.5 152.7 L367.0 150.1 L367.5 147.5 L368.0 145.0 L368.5 142.5 L368.9 140.0 L369.3 137.5 L369.7 135.1 L370.1 132.6 L370.5 130.2 L370.9 127.8 L371.2 125.5 L371.6 123.1 L372.0 120.8 L372.3 118.4 L372.7 116.1 L373.1 113.7 L373.5 111.4 L373.8 109.1 L374.2 106.8 L374.7 104.4 L375.1 102.1 L375.5 99.8 L376.0 97.4 L376.5 95.1 L377.0 92.7 L377.5 90.3 L378.1 87.9 L378.7 85.5 L379.3 83.1 L380.0 80.7 L380.7 78.2 L381.4 75.7 L382.2 73.2 L383.0 70.6 L383.9 68.1 L384.8 65.5 L385.8 62.9 L386.9 60.4 L388.0 58.0 L389.2 55.7 L390.5 53.5 L391.9 51.4 L393.3 49.6 L394.9 47.9 L396.7 46.5 L398.5 45.4 L400.5 44.5 L402.5 44.0 L404.5 43.9 L406.4 44.3 L408.2 45.1 L410.0 46.2 L411.6 47.6 L413.2 49.2 L414.8 51.1 L416.3 53.1 L417.7 55.2 L419.1 57.4 L420.5 59.5 L421.8 61.7 L423.1 63.8 L424.4 66.0 L425.7 68.2 L426.9 70.4 L428.1 72.6 L429.2 74.8 L430.4 77.1 L431.5 79.3 L432.5 81.5 L433.6 83.8 L434.6 86.0 L435.6 88.3 L436.6 90.5 L437.6 92.8 L438.5 95.1 L439.4 97.3 L440.3 99.6 L441.2 101.9 L442.1 104.2 L442.9 106.5 L443.7 108.8 L444.6 111.1 L445.3 113.4 L446.1 115.8 L446.9 118.1 L447.6 120.4 L448.4 122.7 L449.1 125.1 L449.8 127.4 L450.5 129.7 L451.2 132.1 L451.9 134.4 L452.6 136.8 L453.3 139.1 L453.9 141.5 L454.6 143.8 L455.2 146.2 L455.9 148.5 L456.5 150.9 L457.2 153.3 L457.8 155.6 L458.4 158.0 L459.1 160.4 L459.7 162.7 L460.3 165.1 L461.0 167.4 L461.6 169.8 L462.2 172.2 L462.9 174.5 L463.5 176.9 L464.1 179.3 L464.8 181.7 L465.4 184.0 L466.0 186.4 L466.6 188.8 L467.3 191.1 L467.9 193.5 L468.5 195.9 L469.1 198.3 L469.7 200.6 L470.4 203.0 L471.0 205.4 L471.6 207.7 L472.2 210.1 L472.8 212.5 L473.4 214.9 L474.1 217.2 L474.7 219.6 L475.3 222.0 L475.9 224.4 L476.5 226.7 L477.1 229.1 L477.7 231.5 L478.3 233.9 L478.9 236.3 L479.5 238.6 L480.1 241.0 L480.7 243.4 L481.3 245.8 L481.9 248.2 L482.5 250.5 L483.1 252.9 L483.7 255.3 L484.3 257.7 L484.9 260.0 L485.5 262.4 L486.1 264.8 L486.7 267.2 L487.2 269.6 L487.8 271.9 L488.4 274.3 L489.0 276.7 L489.6 279.1 L490.2 281.5 L490.7 283.8 L491.3 286.2 L491.9 288.6 L492.5 291.0 L493.0 293.4" fill="none" stroke="#3368aa" stroke-width="3.2" stroke-dasharray="3.2 2.3"/>
 </g>
 <defs>
  <filter id="cb" x="-2%" y="-2%" width="104%" height="104%"><feGaussianBlur stdDeviation="0.4"/></filter>
  <linearGradient id="spec" x1="0" x2="1" y1="0" y2="0">
   <stop offset="0.000" stop-color="#1e2a88"/>
   <stop offset="0.200" stop-color="#1f3190"/>
   <stop offset="0.258" stop-color="#24508e"/>
   <stop offset="0.300" stop-color="#2a6a78"/>
   <stop offset="0.360" stop-color="#347a58"/>
   <stop offset="0.416" stop-color="#3c8440"/>
   <stop offset="0.459" stop-color="#6a9434"/>
   <stop offset="0.488" stop-color="#c8c030"/>
   <stop offset="0.516" stop-color="#f2d42a"/>
   <stop offset="0.588" stop-color="#f8c828"/>
   <stop offset="0.645" stop-color="#f49a30"/>
   <stop offset="0.703" stop-color="#f06a34"/>
   <stop offset="0.760" stop-color="#ee4a34"/>
   <stop offset="0.875" stop-color="#e83038"/>
   <stop offset="1.000" stop-color="#dc1a44"/>
  </linearGradient>
 </defs>
 <rect x="364" y="354.2" width="276" height="26.3" fill="url(#spec)"/>
 <text y="418.6" font-family="Noto Sans CJK JP, sans-serif" font-weight="700" font-size="13.8" letter-spacing="1.35" fill="#4a4a4a"><tspan x="302">図</tspan><tspan x="318.5" font-family="Liberation Sans, sans-serif" font-weight="bold" font-size="14.5">1.</tspan><tspan x="337">青,</tspan><tspan x="363.5">緑,</tspan><tspan x="392.6">赤各錐体の受光スペクトル</tspan></text>
</svg>

<div class="abs foot" style="top:452px;font-size:13.6px;letter-spacing:0.85px;">色覚の多様性と色覚バリアフリーなプレゼンテーション　第1回　色覚の原理と色盲のメカニ</div>
<div class="abs foot" style="top:466.5px;font-size:14.8px;word-spacing:1.5px;">ズ<span style="letter-spacing:-7.2px">ム</span>「<span style="font-size:15.5px">1.2 </span>出発点としての網膜と視物質」 <span style="font-size:15.7px">https://www.nig.ac.jp/color/barrierfree/</span></div>
<div class="abs foot" style="top:482px;font-size:15.2px;word-spacing:1.7px;">barrierfree1-2.html 岡部正隆 / 伊藤啓 細胞工学Vol.21 No.7 2002年7月号</div>

<div id="illu"><svg width="78" height="78" viewBox="642 462 78 78">
 <defs><filter id="ib" x="-5%" y="-5%" width="110%" height="110%"><feGaussianBlur stdDeviation="0.8"/></filter></defs>
 <g filter="url(#ib)">
 <rect x="638" y="458" width="86" height="86" fill="#4a343c"/>
 <rect x="638" y="458" width="86" height="31" fill="#e0dabb"/>
 <path d="M642 486 Q650 476 660 484 M676 462 Q684 470 690 464 M700 462 Q712 470 722 464 M714 478 Q718 484 722 482 M643 472 Q648 466 654 466" stroke="#8a7262" stroke-width="1.6" fill="none"/>
 <path d="M684 476 Q688 482 686 488 M712 462 L716 470" stroke="#6a5046" stroke-width="1.4" fill="none"/>
 <path d="M642 468 L652 478 M644 480 L656 472 M648 462 L656 470" stroke="#6a5048" stroke-width="2" fill="none"/>
 <path d="M657 470 Q660 487 670 487 Q682 488 683 472 Q676 480 670 479 Q662 478 660 468Z" fill="#4e3438"/>
 <ellipse cx="670" cy="478" rx="8" ry="5" fill="#7a6466"/>
 <path d="M664 463 Q667 468 670 464 Q672 470 676 466 L674 474 L664 472Z" fill="#4a3036"/>
 <path d="M690 462 Q690 484 700 486 Q708 486 710 462" stroke="#6e5246" stroke-width="2.6" fill="none"/>
 <circle cx="698" cy="476" r="4.5" fill="#f4f0da"/>
 <path d="M710 472 Q716 470 722 474 L722 479 Q716 476 710 478Z" fill="#7a5a50"/>
 <path d="M678 466 L686 470" stroke="#7a6050" stroke-width="1.5"/>
 <path d="M638 486 Q680 484 724 488 L724 496 L638 496Z" fill="#5e4052"/>
 <path d="M708 500 L724 498 L724 514 L712 512Z" fill="#8c6c5a"/>
 <path d="M708 516 L724 512 L724 544 L702 544Z" fill="#3c2634"/>
 <ellipse cx="665" cy="501" rx="13" ry="10.5" fill="#ddd6ba" transform="rotate(-20 665 501)"/>
 <ellipse cx="667" cy="503" rx="10" ry="8" fill="#4a3034" transform="rotate(-20 667 503)"/>
 <ellipse cx="672" cy="505" rx="8.5" ry="7.5" fill="#ece6cc"/>
 <ellipse cx="668.5" cy="503" rx="1.4" ry="2" fill="#3a2a2a"/>
 <ellipse cx="674.5" cy="503" rx="1.4" ry="2" fill="#3a2a2a"/>
 <path d="M664 513 Q676 510 686 514 L698 540 L668 540 Q662 526 664 513Z" fill="#e8e2c6"/>
 <path d="M686 497 Q699 491 711 498 Q718 505 716 516 Q714 527 704 532 Q693 535 686 529 Q681 520 682 509 Q683 501 686 497Z" fill="#efead2"/>
 <path d="M680 509 L692 518 M682 515 L690 508" stroke="#4a3434" stroke-width="1.3"/>
 <path d="M697 489 L698 496" stroke="#4a3434" stroke-width="1.5"/>
 <circle cx="655.5" cy="520" r="5" fill="#dcd4c0"/>
 <circle cx="653.8" cy="519.5" r="1.3" fill="#2a1c20"/>
 <circle cx="657.4" cy="519.5" r="1.3" fill="#2a1c20"/>
 <path d="M650 524 L646 527 M661 524 L665 527 M655 525 L655 531" stroke="#cfc6b4" stroke-width="1"/>
 <circle cx="644.5" cy="498.5" r="1.6" fill="#f4eedc"/>
 <circle cx="649" cy="505" r="1" fill="#e8e0d0"/>
 <circle cx="646" cy="512" r="0.9" fill="#d8d0c4"/>
 <circle cx="648" cy="533" r="1" fill="#c8bcb0"/>
 <circle cx="713" cy="529" r="1.4" fill="#eee6d8"/>
 <circle cx="710" cy="535" r="1.2" fill="#d8ccc0"/>
 <circle cx="716" cy="520" r="1" fill="#e0d6cc"/>
 <circle cx="703" cy="538" r="1" fill="#cfc4b8"/>
 </g>
</svg></div>
</body>
</html>
